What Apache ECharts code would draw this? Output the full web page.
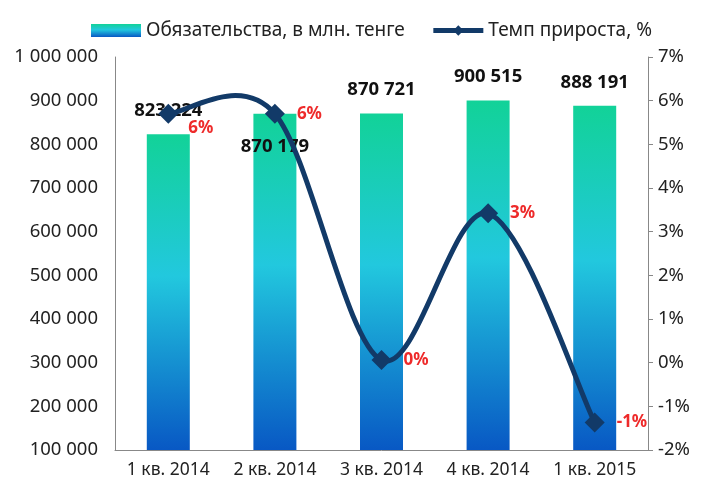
<!DOCTYPE html>
<html>
<head>
<meta charset="utf-8">
<script src="https://cdn.jsdelivr.net/npm/echarts@6/dist/echarts.min.js"></script>
<style>
  html, body { margin: 0; padding: 0; background: #fff; }
  #main { width: 703px; height: 488px; }
</style>
</head>
<body>
<div id="main"></div>
<script>
  var categories = ['1 кв. 2014', '2 кв. 2014', '3 кв. 2014', '4 кв. 2014', '1 кв. 2015'];
  var liabilities = [823224, 870179, 870721, 900515, 888191];  // млн. тенге
  var growth = [5.7, 5.7, 0.06, 3.42, -1.37];                  // %
  var growthLabels = ['6%', '6%', '0%', '3%', '-1%'];

  var font = 'Noto Sans';
  var navy = '#123a68';
  var chart = echarts.init(document.getElementById('main'));

  function fmtNum(v) {
    return String(v).replace(/\B(?=(\d{3})+(?!\d))/g, ' ');
  }

  var barGrad = new echarts.graphic.LinearGradient(0, 0, 0, 1, [
    { offset: 0, color: '#12d298' },
    { offset: 0.45, color: '#22c8de' },
    { offset: 1, color: '#0858c4' }
  ]);

  // bar data: label of the 2nd bar sits inside the bar like in the original
  var barData = liabilities.map(function (v, i) {
    if (i === 1) return { value: v, label: { position: 'insideTop', offset: [0, 10] } };
    return v;
  });
  var lineData = growth.map(function (v, i) {
    if (i === 0) return { value: v, label: { offset: [-2, 14] } };
    return v;
  });

  // excel-like smoothed curve (catmull-rom -> bezier), drawn through the axes
  function renderCurve(params, api) {
    if (params.dataIndex !== 0) return;
    var pts = growth.map(function (v, i) { return api.coord([i, v]); });
    var kids = [];
    for (var i = 0; i < pts.length - 1; i++) {
      var p0 = pts[i - 1] || pts[i];
      var p1 = pts[i];
      var p2 = pts[i + 1];
      var p3 = pts[i + 2] || pts[i + 1];
      kids.push({
        type: 'bezierCurve',
        shape: {
          x1: p1[0], y1: p1[1],
          cpx1: p1[0] + (p2[0] - p0[0]) / 6, cpy1: p1[1] + (p2[1] - p0[1]) / 6,
          cpx2: p2[0] - (p3[0] - p1[0]) / 6, cpy2: p2[1] - (p3[1] - p1[1]) / 6,
          x2: p2[0], y2: p2[1]
        },
        style: { stroke: navy, lineWidth: 5, fill: null, lineCap: 'round' }
      });
    }
    return { type: 'group', children: kids };
  }

  chart.setOption({
    animation: false,
    textStyle: { fontFamily: font },
    legend: {
      top: 16,
      left: 86,
      itemGap: 26,
      itemWidth: 50,
      itemHeight: 13,
      textStyle: { fontSize: 19, color: '#222', fontFamily: font },
      data: [
        { name: 'Обязательства, в млн. тенге', icon: 'rect' },
        { name: 'Темп прироста, %', lineStyle: { opacity: 1, width: 5, color: navy } }
      ]
    },
    grid: { left: 115, right: 55, top: 57, bottom: 38 },
    xAxis: {
      type: 'category',
      data: categories,
      axisLine: { onZero: false, lineStyle: { color: '#888' } },
      axisTick: { show: false },
      axisLabel: { fontSize: 17.5, color: '#222', margin: 11, interval: 0 }
    },
    yAxis: [
      {
        type: 'value', min: 100000, max: 1000000, interval: 100000,
        axisLine: { show: true, lineStyle: { color: '#888' } },
        axisTick: { show: false },
        splitLine: { show: false },
        axisLabel: { fontSize: 18.5, color: '#222', margin: 17, formatter: fmtNum }
      },
      {
        type: 'value', min: -2, max: 7, interval: 1,
        axisLine: { show: true, lineStyle: { color: '#888' } },
        axisTick: { show: true, inside: false, length: 5, lineStyle: { color: '#888' } },
        splitLine: { show: false },
        axisLabel: { fontSize: 18.5, color: '#222', margin: 10, formatter: '{value}%' }
      }
    ],
    series: [
      {
        name: 'Обязательства, в млн. тенге',
        type: 'bar',
        barWidth: 43,
        itemStyle: { color: barGrad },
        label: {
          show: true, position: 'top', distance: 14,
          fontSize: 18.5, fontWeight: 'bold', color: '#111',
          formatter: function (p) { return fmtNum(p.value); }
        },
        data: barData,
        z: 1
      },
      {
        name: 'curve',
        type: 'custom',
        yAxisIndex: 1,
        renderItem: renderCurve,
        data: growth.map(function (v, i) { return [i, v]; }),
        silent: true,
        z: 2
      },
      {
        name: 'Темп прироста, %',
        type: 'line',
        yAxisIndex: 1,
        symbol: 'diamond',
        symbolSize: 20,
        lineStyle: { color: navy, width: 5, opacity: 0 },
        itemStyle: { color: navy },
        label: {
          show: true, position: 'right', distance: 12,
          fontSize: 17, fontWeight: 'bold', color: '#ee2a2a',
          formatter: function (p) { return growthLabels[p.dataIndex]; }
        },
        data: lineData,
        z: 3
      }
    ]
  });
</script>
</body>
</html>
